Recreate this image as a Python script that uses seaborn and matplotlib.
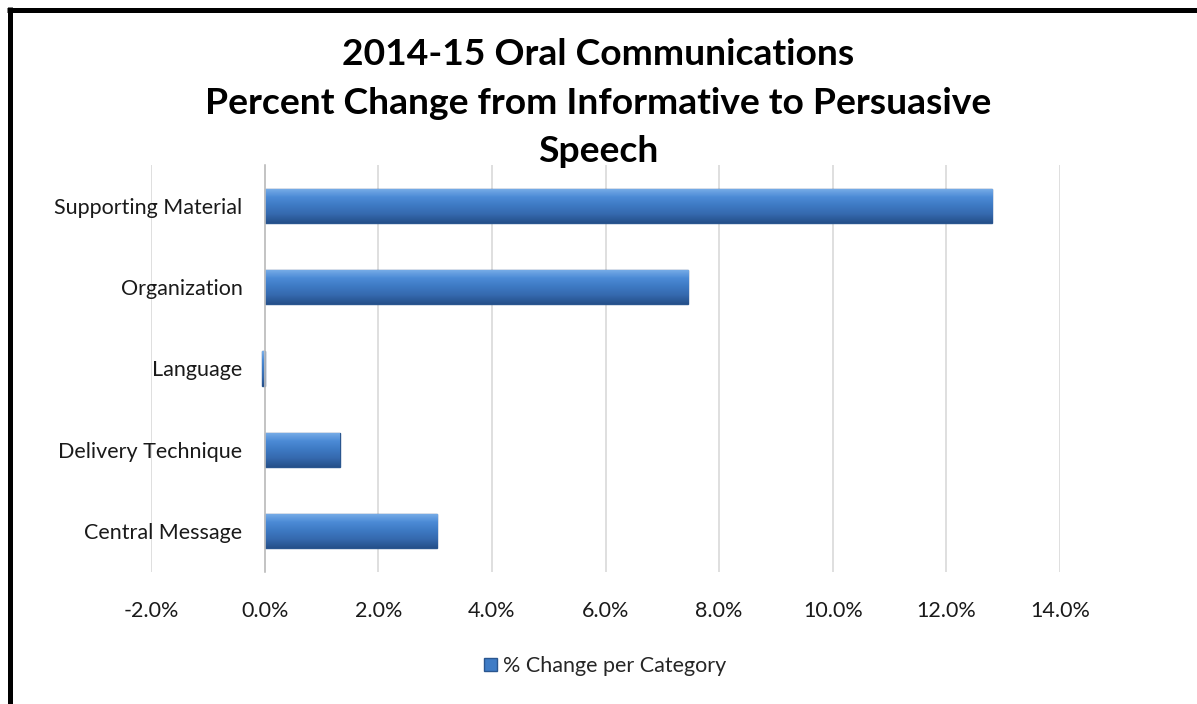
import numpy as np
import pandas as pd
import matplotlib
matplotlib.use("Agg")
import matplotlib.pyplot as plt
import seaborn as sns
from matplotlib.patches import Patch
from matplotlib.ticker import FuncFormatter, FixedLocator

categories = ["Supporting Material", "Organization", "Language", "Delivery Technique", "Central Message"]
values = [12.8, 7.45, -0.05, 1.32, 3.04]
x_ticks = [-2, 0, 2, 4, 6, 8, 10, 12, 14]
title = "2014-15 Oral Communications\nPercent Change from Informative to Persuasive\nSpeech"
legend_label = "% Change per Category"

sns.set_theme(style="white")
plt.rcParams["font.family"] = ["Lato", "DejaVu Sans"]

W, H = 1197, 704
fig = plt.figure(figsize=(W / 100, H / 100), dpi=100)
fig.patch.set_facecolor("white")
ax = fig.add_axes([151 / W, 1 - 572 / H, (1060 - 151) / W, (572 - 165) / H])

df = pd.DataFrame({"category": categories, "value": values})
sns.barplot(data=df, x="value", y="category", orient="h", width=0.42,
            color="#3F7CC6", edgecolor="#2A568F", linewidth=1.0, ax=ax, zorder=3)

# bevel-like gradient overlay on bars
grad = np.linspace(0, 1, 64).reshape(-1, 1)
cmap = matplotlib.colors.LinearSegmentedColormap.from_list(
    "bev", ["#7AAEE8", "#4C8BD6", "#3D79C3", "#3569AE", "#25508A"])
for p in ax.patches:
    x0, y0 = p.get_x(), p.get_y()
    w, h = p.get_width(), p.get_height()
    if abs(w) < 1e-9:
        continue
    im = ax.imshow(grad, extent=[x0, x0 + w, y0 + h, y0], aspect="auto",
                   cmap=cmap, zorder=3.5, origin="upper")
    im.set_clip_path(p)

ax.set_xlim(x_ticks[0], x_ticks[-1])
ax.set_ylim(len(categories) - 0.5, -0.5)
ax.xaxis.set_major_locator(FixedLocator(x_ticks))
ax.xaxis.set_major_formatter(FuncFormatter(lambda v, _: f"{v:.1f}%"))
ax.grid(axis="x", color="#D9D9D9", linewidth=1.2, zorder=0)
ax.grid(axis="y", visible=False)
ax.set_xlabel("")
ax.set_ylabel("")

for s in ["top", "right", "bottom"]:
    ax.spines[s].set_visible(False)
ax.spines["left"].set_position(("data", 0))
ax.spines["left"].set_color("#BFBFBF")
ax.spines["left"].set_linewidth(1.2)
ax.spines["left"].set_zorder(4)

ax.tick_params(axis="x", length=0, pad=21, labelsize=15.5, colors="#1a1a1a")
ax.tick_params(axis="y", which="major", length=0, pad=16, labelsize=15.5, colors="#1a1a1a")
ax.set_yticks(np.arange(-0.5, len(categories), 1.0), minor=True)
ax.tick_params(axis="y", which="minor", length=7, width=1.2, color="#BFBFBF")

fig.text(598 / W, 1 - 103 / H, title, ha="center", va="center",
         fontsize=26.8, fontweight="bold", color="black", linespacing=1.56)

fig.legend(handles=[Patch(facecolor="#3F7CC6", edgecolor="#2A568F", label=legend_label)],
           loc="center", bbox_to_anchor=(605 / W, 1 - 666 / H), frameon=False,
           fontsize=15.5, handlelength=0.6, handleheight=0.6, handletextpad=0.3)

# outer border (left and top)
fig.add_artist(plt.Line2D([9.5 / W, 9.5 / W], [0, 1 - 7 / H], transform=fig.transFigure,
                          color="black", linewidth=3.6, solid_capstyle="butt"))
fig.add_artist(plt.Line2D([7 / W, 1], [1 - 9.5 / H, 1 - 9.5 / H], transform=fig.transFigure,
                          color="black", linewidth=3.6, solid_capstyle="butt"))

fig.savefig("out.png", dpi=100, facecolor="white")
